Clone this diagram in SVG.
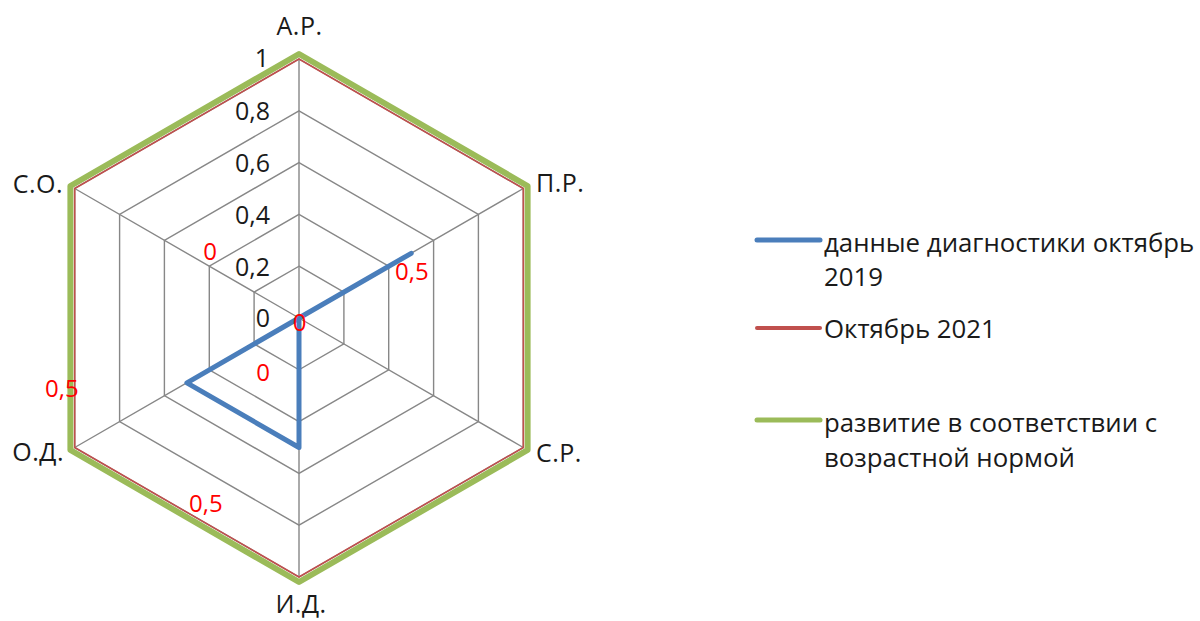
<svg xmlns="http://www.w3.org/2000/svg" width="1200" height="621" viewBox="0 0 1200 621">
<style>
.grid{fill:none;stroke:#878787;stroke-width:1.4}
.t{font-family:"Open Sans",Lato,"Liberation Sans",sans-serif;font-size:25px;fill:#1a1a1a}
.a{letter-spacing:0.5px}
.r{font-family:"Open Sans",Lato,"Liberation Sans",sans-serif;font-size:24px;fill:#ff0000}
.lg{font-family:"Open Sans",Lato,"Liberation Sans",sans-serif;font-size:25.8px;fill:#1a1a1a}
</style>
<rect width="1200" height="621" fill="#ffffff"/>
<g id="grid">
<polygon class="grid" points="299,266.2 343.9,292.1 343.9,343.9 299,369.8 254.1,343.9 254.1,292.1"/>
<polygon class="grid" points="299,214.4 388.7,266.2 388.7,369.8 299,421.6 209.3,369.8 209.3,266.2"/>
<polygon class="grid" points="299,162.6 433.6,240.3 433.6,395.7 299,473.4 164.4,395.7 164.4,240.3"/>
<polygon class="grid" points="299,110.8 478.4,214.4 478.4,421.6 299,525.2 119.6,421.6 119.6,214.4"/>
<polygon class="grid" points="299,59 523.3,188.5 523.3,447.5 299,577 74.7,447.5 74.7,188.5"/>
<path class="grid" d="M299,318 L299,59 M299,318 L523.3,188.5 M299,318 L523.3,447.5 M299,318 L299,577 M299,318 L74.7,447.5 M299,318 L74.7,188.5"/>
</g>
<g id="series">
<polygon id="norm" points="299,54 527.6,186 527.6,450 299,582 70.4,450 70.4,186" fill="none" stroke="#9bbb59" stroke-width="6" stroke-linejoin="round"/>
<polygon id="oct2021" points="299,59 523.3,188.5 523.3,447.5 299,577 74.7,447.5 74.7,188.5" fill="none" stroke="#c0504d" stroke-width="1.6"/>
<polygon id="oct2019" points="299,318 411.2,253.3 299,318 299,447.5 186.9,382.8 299,318" fill="none" stroke="#4a7ebb" stroke-width="5" stroke-linejoin="round"/>
</g>
<g id="ticks">
<text class="t" x="270" y="327" text-anchor="end">0</text>
<text class="t" x="270" y="276" text-anchor="end">0,2</text>
<text class="t" x="270" y="224" text-anchor="end">0,4</text>
<text class="t" x="270" y="172" text-anchor="end">0,6</text>
<text class="t" x="270" y="120" text-anchor="end">0,8</text>
<text class="t" x="269" y="67" text-anchor="end">1</text>
</g>
<g id="data-labels">
<text class="r" x="210" y="260" text-anchor="middle">0</text>
<text class="r" x="395" y="280">0,5</text>
<text class="r" x="299.5" y="331" text-anchor="middle">0</text>
<text class="r" x="263" y="381" text-anchor="middle">0</text>
<text class="r" x="45" y="397">0,5</text>
<text class="r" x="189" y="512">0,5</text>
</g>
<g id="axis-labels">
<text class="t a" x="299.5" y="35" text-anchor="middle">А.Р.</text>
<text class="t a" x="536" y="192">П.Р.</text>
<text class="t a" x="536" y="462">С.Р.</text>
<text class="t a" x="301" y="613" text-anchor="middle">И.Д.</text>
<text class="t a" x="64" y="461" text-anchor="end">О.Д.</text>
<text class="t a" x="63" y="193" text-anchor="end">С.О.</text>
</g>
<g id="legend">
<g id="legend-2019">
<line x1="757" y1="240" x2="820" y2="240" stroke="#4a7ebb" stroke-width="5" stroke-linecap="round"/>
<text class="lg" x="824" y="252">данные диагностики октябрь</text>
<text class="lg" x="824" y="286">2019</text>
</g>
<g id="legend-2021">
<line x1="757" y1="328" x2="820" y2="328" stroke="#c0504d" stroke-width="4" stroke-linecap="round"/>
<text class="lg" x="824" y="338">Октябрь 2021</text>
</g>
<g id="legend-norm">
<line x1="757" y1="420" x2="820" y2="420" stroke="#9bbb59" stroke-width="5" stroke-linecap="round"/>
<text class="lg" x="824" y="432">развитие в соответствии с</text>
<text class="lg" x="824" y="467">возрастной нормой</text>
</g>
</g>
</svg>
